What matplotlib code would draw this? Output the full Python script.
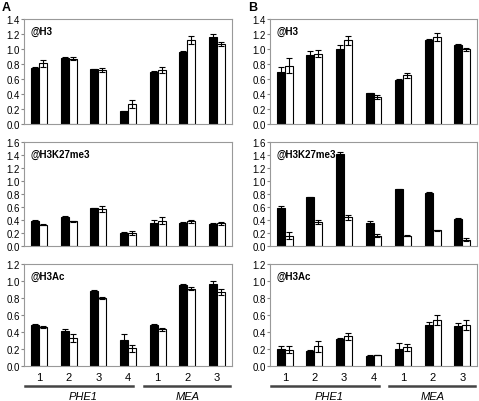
import numpy as np
import matplotlib.pyplot as plt

positions = ['1', '2', '3', '4', '1', '2', '3']
genes = ['PHE1', 'MEA']
marks = ['@H3', '@H3K27me3', '@H3Ac']
ylims = [1.4, 1.6, 1.2]

# panel A
a_h3_black = [0.75, 0.88, 0.73, 0.17, 0.70, 0.96, 1.16]
a_h3_black_err = [0.01, 0.02, 0.01, 0.01, 0.01, 0.01, 0.04]
a_h3_white = [0.81, 0.87, 0.72, 0.27, 0.72, 1.12, 1.07]
a_h3_white_err = [0.05, 0.02, 0.03, 0.05, 0.04, 0.05, 0.03]
a_k27_black = [0.39, 0.45, 0.58, 0.20, 0.35, 0.36, 0.34]
a_k27_black_err = [0.01, 0.01, 0.01, 0.02, 0.05, 0.01, 0.01]
a_k27_white = [0.33, 0.38, 0.57, 0.20, 0.39, 0.38, 0.35]
a_k27_white_err = [0.01, 0.01, 0.04, 0.03, 0.05, 0.02, 0.02]
a_ac_black = [0.48, 0.41, 0.88, 0.31, 0.48, 0.95, 0.97]
a_ac_black_err = [0.01, 0.02, 0.02, 0.07, 0.02, 0.02, 0.03]
a_ac_white = [0.46, 0.33, 0.80, 0.21, 0.43, 0.91, 0.87]
a_ac_white_err = [0.01, 0.05, 0.01, 0.04, 0.02, 0.02, 0.04]

# panel B
b_h3_black = [0.69, 0.92, 1.00, 0.41, 0.59, 1.12, 1.06]
b_h3_black_err = [0.07, 0.05, 0.05, 0.01, 0.01, 0.01, 0.01]
b_h3_white = [0.78, 0.94, 1.12, 0.36, 0.65, 1.16, 1.00]
b_h3_white_err = [0.10, 0.05, 0.06, 0.03, 0.03, 0.05, 0.02]
b_k27_black = [0.59, 0.75, 1.42, 0.35, 0.87, 0.82, 0.42]
b_k27_black_err = [0.03, 0.01, 0.02, 0.03, 0.01, 0.01, 0.01]
b_k27_white = [0.16, 0.37, 0.44, 0.16, 0.16, 0.24, 0.10]
b_k27_white_err = [0.05, 0.03, 0.04, 0.02, 0.01, 0.01, 0.02]
b_ac_black = [0.20, 0.18, 0.32, 0.12, 0.20, 0.48, 0.47]
b_ac_black_err = [0.03, 0.005, 0.005, 0.005, 0.07, 0.04, 0.04]
b_ac_white = [0.19, 0.23, 0.35, 0.13, 0.22, 0.54, 0.48]
b_ac_white_err = [0.04, 0.07, 0.04, 0.005, 0.04, 0.06, 0.06]

panel_a = [(a_h3_black, a_h3_black_err, a_h3_white, a_h3_white_err),
           (a_k27_black, a_k27_black_err, a_k27_white, a_k27_white_err),
           (a_ac_black, a_ac_black_err, a_ac_white, a_ac_white_err)]
panel_b = [(b_h3_black, b_h3_black_err, b_h3_white, b_h3_white_err),
           (b_k27_black, b_k27_black_err, b_k27_white, b_k27_white_err),
           (b_ac_black, b_ac_black_err, b_ac_white, b_ac_white_err)]

W, H = 479, 402
fig = plt.figure(figsize=(W / 100, H / 100), dpi=100)
plt.rcParams['font.family'] = ['Liberation Sans', 'DejaVu Sans']

# pixel boxes (left, right) and rows (top, bottom)
cols = [(24, 232), (270, 477)]
rows = [(20, 125), (143, 247), (265, 367)]
bw = 0.27
x = np.arange(len(positions))
err_kw = dict(ecolor='black', elinewidth=0.8, capsize=2, capthick=0.8)


def draw_panel(col, data, letter):
    left, right = cols[col]
    axes = []
    for r, (top, bottom) in enumerate(rows):
        ax = fig.add_axes([left / W, 1 - bottom / H, (right - left) / W, (bottom - top) / H])
        bk, bke, wh, whe = data[r]
        ax.bar(x - bw / 2, bk, bw, color='black', edgecolor='black', linewidth=0.8,
               yerr=bke, error_kw=err_kw)
        ax.bar(x + bw / 2, wh, bw, color='white', edgecolor='black', linewidth=0.8,
               yerr=whe, error_kw=err_kw)
        ax.set_xlim(-0.5, len(positions) - 0.5)
        ax.set_ylim(0, ylims[r])
        ticks = np.arange(0, ylims[r] + 0.01, 0.2)
        ax.set_yticks(ticks)
        ax.set_yticklabels(['%.1f' % v for v in ticks])
        ax.tick_params(axis='y', labelsize=7, length=2, pad=1, color='#888888')
        ax.set_xticks([])
        for s in ax.spines.values():
            s.set_color('#999999')
            s.set_linewidth(0.8)
        ax.text(0.03, 0.93, marks[r], transform=ax.transAxes, fontsize=7,
                fontweight='bold', va='top', ha='left')
        axes.append(ax)

    bottom_ax = axes[-1]
    trans = bottom_ax.get_xaxis_transform()
    for i, p in enumerate(positions):
        bottom_ax.text(x[i], -0.11, p, transform=trans,
                       ha='center', va='center', fontsize=8)
    # group underlines and gene names
    groups = [(0, 3, genes[0]), (4, 6, genes[1])]
    for g0, g1, name in groups:
        bottom_ax.plot([g0 - 0.47, g1 + 0.17 if g1 == 3 else g1 + 0.44], [-0.2, -0.2],
                       color='#444444', lw=1.8, transform=trans, clip_on=False)
        bottom_ax.text((g0 + g1) / 2, -0.29, name, transform=trans,
                       ha='center', va='center', fontsize=8, style='italic')
    fig.text((left - 22) / W, 1 - 8 / H, letter, fontsize=9, fontweight='bold',
             ha='left', va='center')


draw_panel(0, panel_a, 'A')
draw_panel(1, panel_b, 'B')

fig.savefig('out.png', dpi=100)
